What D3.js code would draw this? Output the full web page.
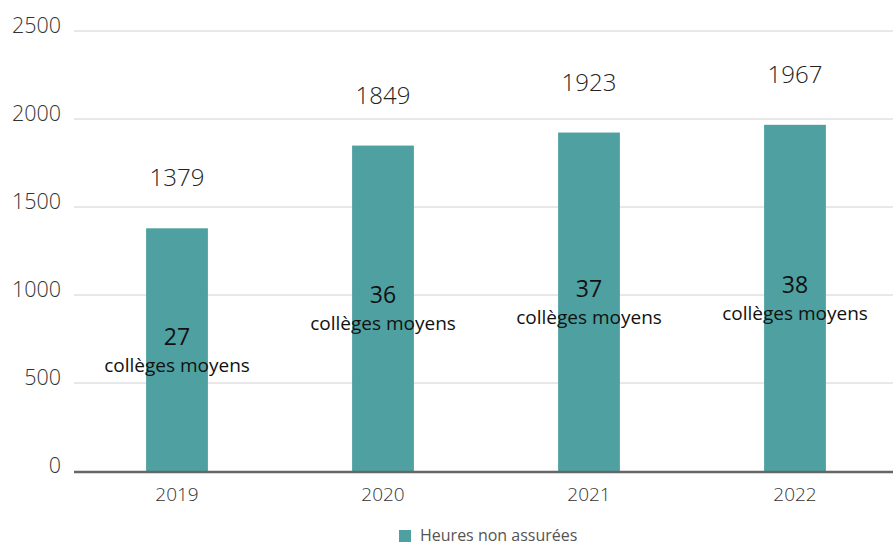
<!DOCTYPE html>
<html><head><meta charset="utf-8">
<script src="https://cdn.jsdelivr.net/npm/d3@7"></script>
<style>
body{margin:0;background:#fff;}
text{font-family:"Open Sans","Noto Sans",sans-serif;}
</style></head>
<body><svg id="c" width="893" height="547"></svg>
<script>
const years = ["2019","2020","2021","2022"];
const heures = [1379,1849,1923,1967];
const colleges = [27,36,37,38];
const yTicks = [0,500,1000,1500,2000,2500];
const seriesName = "Heures non assurées";
const collegeLabel = "collèges moyens";
const barColor = "#4FA0A0";

const svg = d3.select("#c");
const pLeft = 74, pRight = 898, pTop = 31, pBottom = 471;
const x = d3.scaleBand().domain(years).range([pLeft,pRight]).paddingInner(0.7).paddingOuter(0.35);
const y = d3.scaleLinear().domain([0,2500]).range([pBottom,pTop]);

// grid
svg.append("g").selectAll("line").data(yTicks.filter(d=>d>0)).join("line")
  .attr("x1",pLeft).attr("x2",893).attr("y1",d=>y(d)).attr("y2",d=>y(d))
  .attr("stroke","#d0d0d0").attr("stroke-width",1);

// y labels
svg.append("g").selectAll("text").data(yTicks).join("text")
  .attr("x",61).attr("y",d=>y(d)+2).attr("text-anchor","end")
  .attr("font-size",21.5).attr("font-weight",300).attr("fill","#333").text(d=>d);

// bars
svg.append("g").selectAll("rect").data(heures).join("rect")
  .attr("x",(d,i)=>x(years[i])).attr("width",x.bandwidth())
  .attr("y",d=>y(d)).attr("height",d=>pBottom-y(d)).attr("fill",barColor);

// axis line
svg.append("line").attr("x1",pLeft).attr("x2",893).attr("y1",pBottom+1).attr("y2",pBottom+1)
  .attr("stroke","#666").attr("stroke-width",2.5);

// x labels
svg.append("g").selectAll("text").data(years).join("text")
  .attr("x",d=>x(d)+x.bandwidth()/2).attr("y",501).attr("text-anchor","middle")
  .attr("font-size",19).attr("font-weight",300).attr("fill","#333").text(d=>d);

// value labels
svg.append("g").selectAll("text").data(heures).join("text")
  .attr("x",(d,i)=>x(years[i])+x.bandwidth()/2).attr("y",d=>y(d)-42).attr("text-anchor","middle")
  .attr("font-size",24).attr("font-weight",300).attr("fill","#222").text(d=>d);

// inside labels
const g = svg.append("g").selectAll("g").data(colleges).join("g")
  .attr("transform",(d,i)=>`translate(${x(years[i])+x.bandwidth()/2},${(y(heures[i])+pBottom)/2})`);
g.append("text").attr("y",-5).attr("text-anchor","middle").attr("font-size",23)
  .attr("fill","#111").text(d=>d);
g.append("text").attr("y",22).attr("text-anchor","middle").attr("font-size",19)
  .attr("fill","#111").text(collegeLabel);

// legend
svg.append("rect").attr("x",399).attr("y",530).attr("width",12).attr("height",12).attr("fill",barColor);
svg.append("text").attr("x",420).attr("y",541).attr("font-size",16).attr("fill","#555").text(seriesName);
</script></body></html>
